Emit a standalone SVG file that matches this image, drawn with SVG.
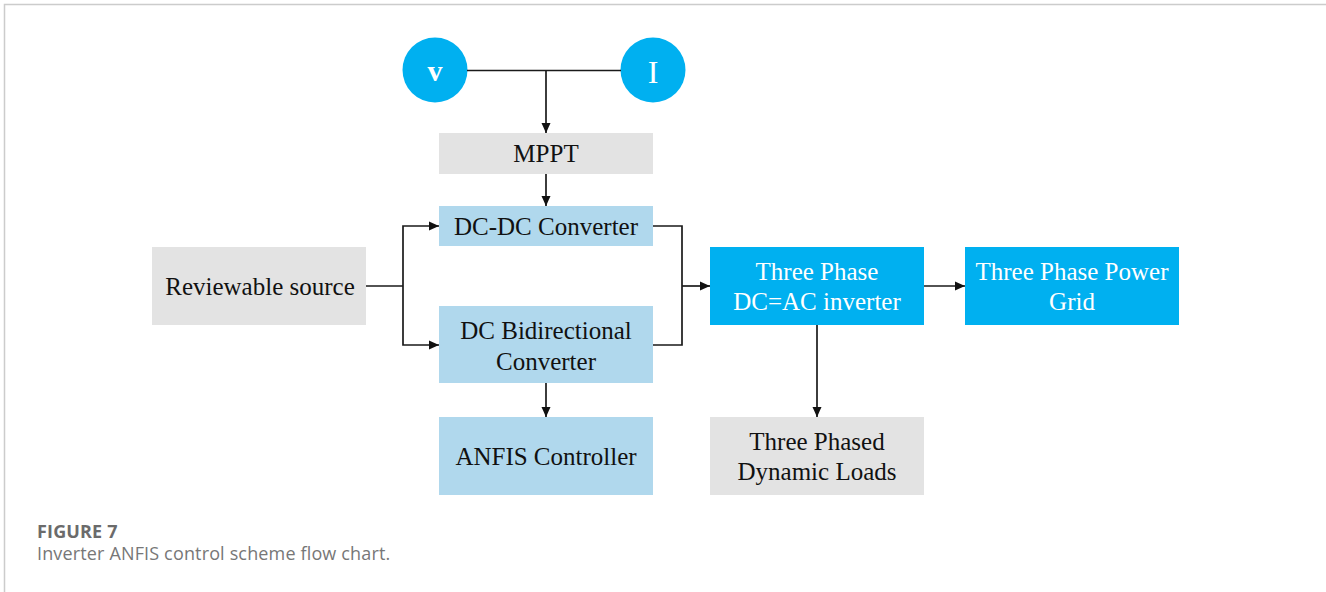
<svg xmlns="http://www.w3.org/2000/svg" width="1326" height="592" viewBox="0 0 1326 592">
  <style>
    .lbl { font-family: "Liberation Serif", "Times New Roman", serif; font-size: 25px; text-anchor: middle; }
    .dark { fill: #111111; }
    .light { fill: #ffffff; }
    .grey { fill: #e3e3e3; }
    .pale { fill: #b0d8ed; }
    .vivid { fill: #00b0f0; }
    .wire { fill: none; stroke: #1a1a1a; stroke-width: 1.7; }
    .cap { font-family: "Open Sans", "Liberation Sans", sans-serif; font-size: 18px; letter-spacing: 0.15px; }
  </style>
  <defs>
    <marker id="arrow" viewBox="0 0 10 10" refX="10" refY="5" markerWidth="10" markerHeight="10" markerUnits="userSpaceOnUse" orient="auto">
      <path d="M0,0.5 L10,5 L0,9.5 z" fill="#111111"/>
    </marker>
  </defs>

  <rect width="1326" height="592" fill="#ffffff"/>
  <!-- frame -->
  <path d="M4.5,592 V4.5 H1326" fill="none" stroke="#cccccc" stroke-width="1.5"/>

  <g id="sensor-v">
    <circle cx="435" cy="70" r="32.5" class="vivid"/>
    <text x="435" y="81" class="light" style="font-family: 'Liberation Serif', serif; font-size: 30px; font-weight: bold; text-anchor: middle;">v</text>
  </g>
  <g id="sensor-i">
    <circle cx="653" cy="70" r="32.5" class="vivid"/>
    <text x="653" y="83" class="light" style="font-family: 'Liberation Serif', serif; font-size: 32px; text-anchor: middle;">I</text>
  </g>

  <g id="mppt">
    <rect x="439" y="133" width="214" height="41" class="grey"/>
    <text x="546" y="162" class="lbl dark">MPPT</text>
  </g>
  <g id="dcdc">
    <rect x="439" y="206" width="214" height="40" class="pale"/>
    <text x="546" y="235" class="lbl dark">DC-DC Converter</text>
  </g>
  <g id="source">
    <rect x="152" y="247" width="214" height="78" class="grey"/>
    <text x="260" y="295" class="lbl dark">Reviewable source</text>
  </g>
  <g id="bidirectional">
    <rect x="439" y="306" width="214" height="77" class="pale"/>
    <text x="546" y="339" class="lbl dark">DC Bidirectional</text>
    <text x="546" y="370" class="lbl dark">Converter</text>
  </g>
  <g id="anfis">
    <rect x="439" y="417" width="214" height="78" class="pale"/>
    <text x="546" y="465" class="lbl dark">ANFIS Controller</text>
  </g>
  <g id="inverter">
    <rect x="710" y="247" width="214" height="78" class="vivid"/>
    <text x="817" y="280" class="lbl light">Three Phase</text>
    <text x="817" y="310" class="lbl light">DC=AC inverter</text>
  </g>
  <g id="grid">
    <rect x="965" y="247" width="214" height="78" class="vivid"/>
    <text x="1072" y="280" class="lbl light">Three Phase Power</text>
    <text x="1072" y="310" class="lbl light">Grid</text>
  </g>
  <g id="loads">
    <rect x="710" y="417" width="214" height="78" class="grey"/>
    <text x="817" y="450" class="lbl dark">Three Phased</text>
    <text x="817" y="480" class="lbl dark">Dynamic Loads</text>
  </g>

  <g id="connectors">
    <path d="M467,70.5 H621" class="wire"/>
    <path d="M546,70.5 V133" class="wire" marker-end="url(#arrow)"/>
    <path d="M546,174 V206" class="wire" marker-end="url(#arrow)"/>
    <path d="M366,286 H403" class="wire"/>
    <path d="M403,286 V226 H439" class="wire" marker-end="url(#arrow)"/>
    <path d="M403,286 V345 H439" class="wire" marker-end="url(#arrow)"/>
    <path d="M653,226 H682 V345 H653" class="wire"/>
    <path d="M682,286 H710" class="wire" marker-end="url(#arrow)"/>
    <path d="M924,286 H965" class="wire" marker-end="url(#arrow)"/>
    <path d="M546,383 V417" class="wire" marker-end="url(#arrow)"/>
    <path d="M817,325 V417" class="wire" marker-end="url(#arrow)"/>
  </g>

  <g id="caption">
    <text x="37" y="538" class="cap" style="font-weight: bold; fill: #6b6b6b;">FIGURE 7</text>
    <text x="37" y="560" class="cap" style="fill: #777777;">Inverter ANFIS control scheme flow chart.</text>
  </g>
</svg>
